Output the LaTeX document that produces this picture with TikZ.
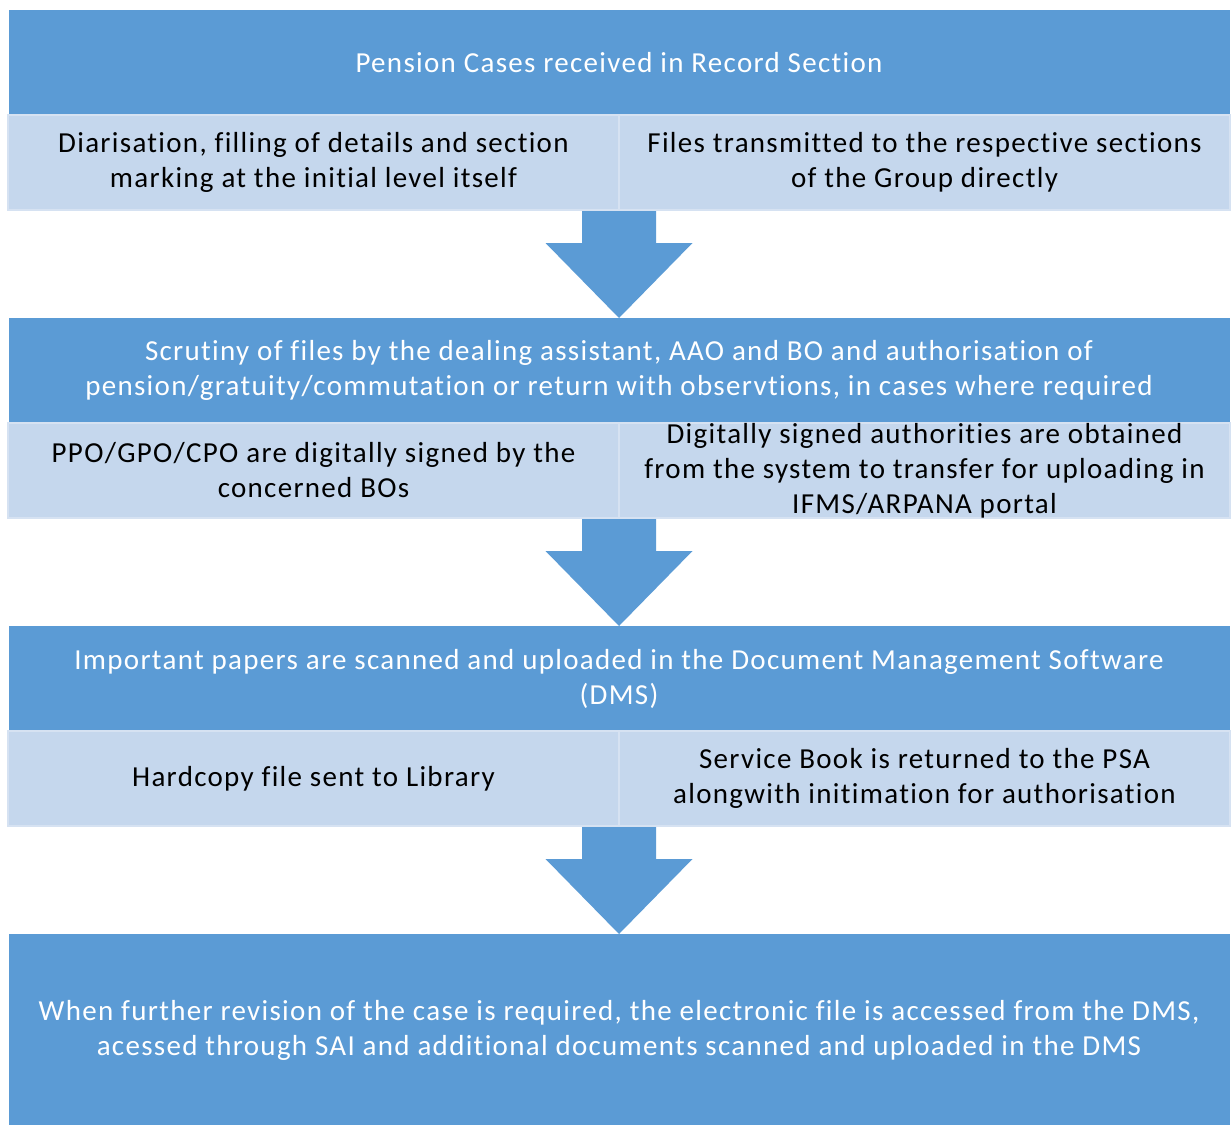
\documentclass[tikz,border=0pt]{standalone}
\usepackage{fontspec}
\setmainfont{Carlito}[LetterSpace=4.5,Ligatures=NoCommon]
\usetikzlibrary{calc}
\definecolor{bluebox}{HTML}{5B9BD5}
\definecolor{lightbox}{HTML}{C5D7ED}
\definecolor{lightedge}{HTML}{D6E2F2}
\begin{document}
\begin{tikzpicture}[x=1pt,y=-1pt,
  every node/.style={inner sep=0pt,outer sep=0pt,align=center,font=\fontsize{29}{35}\selectfont},
  mainbox/.style={fill=bluebox,draw=bluebox,line width=0.8pt,text=white,minimum width=1220pt},
  subbox/.style={fill=lightbox,draw=lightedge,line width=2pt,text=black,minimum width=611pt,minimum height=95pt},
  blockarrow/.style={fill=bluebox}]
\useasboundingbox (0,0) rectangle (1231,1124);
% row 1
\node[mainbox,minimum height=105pt] (m1) at (619,62.5) {Pension Cases received in Record Section};
\node[subbox] (a1) at (313.5,162.5) {Diarisation, filling of details and section\\marking at the initial level itself};
\node[subbox] (b1) at (924.5,162.5) {Files transmitted to the respective sections\\of the Group directly};
% row 2
\node[mainbox,minimum height=105pt] (m2) at (619,370.5) {Scrutiny of files by the dealing assistant, AAO and BO and authorisation of\\pension/gratuity/commutation or return with observtions, in cases where required};
\node[subbox] (a2) at (313.5,470.5) {PPO/GPO/CPO are digitally signed by the\\concerned BOs};
\node[subbox] (b2) at (924.5,470.5) {Digitally signed authorities are obtained\\from the system to transfer for uploading in\\IFMS/ARPANA portal};
% row 3
\node[mainbox,minimum height=105pt] (m3) at (619,678.5) {Important papers are scanned and uploaded in the Document Management Software\\(DMS)};
\node[subbox] (a3) at (313.5,778.5) {Hardcopy file sent to Library};
\node[subbox] (b3) at (924.5,778.5) {Service Book is returned to the PSA\\alongwith initimation for authorisation};
% final
\node[mainbox,minimum height=192pt] (m4) at (619,1030) {When further revision of the case is required, the electronic file is accessed from the DMS,\\acessed through SAI and additional documents scanned and uploaded in the DMS};
% block arrows
\foreach \s/\t in {a1/m2,a2/m3,a3/m4}{
  \coordinate (s) at ($(\s.south east)+(0,1)$);
  \coordinate (t) at (\s.south east |- \t.north);
  \fill[blockarrow] ($(s)+(-37,0)$) -- ($(s)+(37,0)$) -- ($(s)+(37,32)$) -- ($(s)+(73.5,32)$)
    -- (t) -- ($(s)+(-73.5,32)$) -- ($(s)+(-37,32)$) -- cycle;
}
\end{tikzpicture}
\end{document}
